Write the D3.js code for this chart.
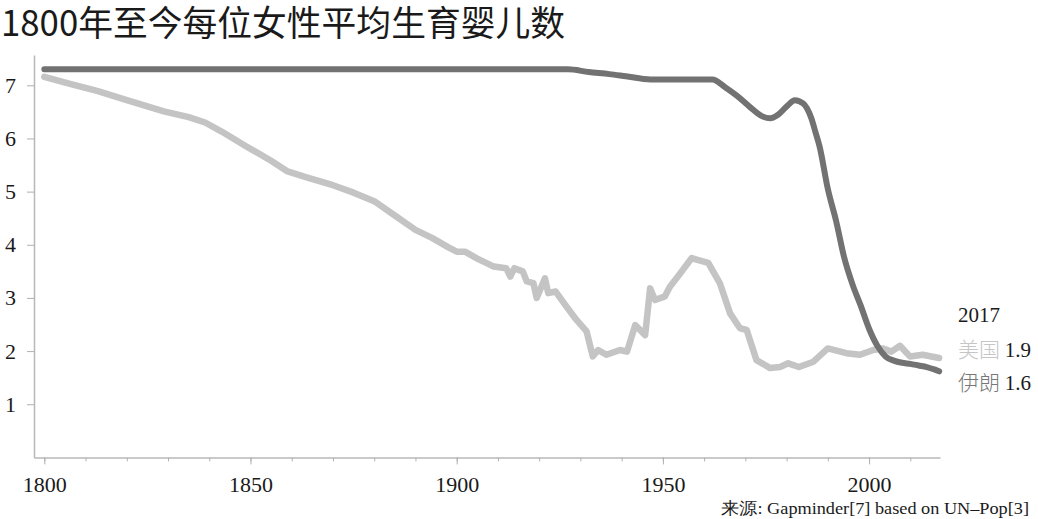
<!DOCTYPE html>
<html>
<head>
<meta charset="utf-8">
<script src="https://cdn.jsdelivr.net/npm/d3@7"></script>
<style>
  body { margin: 0; background: #fff; }
  svg { display: block; }
  .tick text { font-family: "Liberation Serif", "DejaVu Serif", serif; fill: #1a1a1a; }
</style>
</head>
<body>
<svg id="chart" width="1038" height="519"></svg>
<script>
// years and values
var iranYears = [1800, 1927, 1932, 1937, 1941, 1947, 1962, 1965, 1968, 1971, 1974, 1976, 1978, 1980, 1982, 1984, 1986, 1987, 1988, 1990, 1992, 1994, 1996, 1998, 2000, 2002, 2004, 2006, 2008, 2010, 2012, 2014, 2016, 2017];
var iranValues = [7.30, 7.30, 7.25, 7.21, 7.17, 7.11, 7.11, 6.97, 6.80, 6.60, 6.42, 6.38, 6.45, 6.60, 6.72, 6.66, 6.38, 6.12, 5.85, 5.05, 4.45, 3.75, 3.25, 2.85, 2.42, 2.10, 1.90, 1.82, 1.78, 1.76, 1.73, 1.70, 1.65, 1.62];

var usaYears = [1800, 1806, 1813, 1820, 1829, 1835, 1839, 1843, 1849, 1855, 1859, 1864, 1870, 1875, 1880, 1885, 1890, 1894, 1898, 1900, 1902, 1905, 1909, 1912, 1913, 1914, 1916, 1917, 1918.6, 1919.4, 1921.4, 1922.2, 1924, 1926.5, 1929, 1931.5, 1933, 1934.3, 1936.3, 1939.6, 1941.3, 1943.3, 1945.7, 1946.9, 1948.1, 1950.5, 1951.7, 1954, 1957, 1958.2, 1961, 1963.8, 1966.3, 1968.7, 1970.3, 1972.7, 1976, 1978.4, 1980.4, 1983, 1986.5, 1990, 1994.5, 1997.8, 2001, 2003.4, 2005.4, 2007.5, 2009.9, 2013, 2017];
var usaValues = [7.16, 7.03, 6.89, 6.72, 6.51, 6.40, 6.30, 6.13, 5.85, 5.58, 5.38, 5.26, 5.12, 4.98, 4.82, 4.55, 4.28, 4.13, 3.95, 3.87, 3.87, 3.74, 3.59, 3.56, 3.40, 3.56, 3.50, 3.31, 3.28, 3.00, 3.37, 3.09, 3.12, 2.85, 2.59, 2.37, 1.90, 2.02, 1.93, 2.02, 1.99, 2.49, 2.30, 3.18, 2.96, 3.03, 3.21, 3.44, 3.75, 3.72, 3.66, 3.28, 2.71, 2.43, 2.40, 1.83, 1.68, 1.70, 1.77, 1.70, 1.80, 2.05, 1.96, 1.93, 2.02, 2.05, 1.99, 2.10, 1.90, 1.93, 1.87];

var yTicks = [1, 2, 3, 4, 5, 6, 7];
var xMajorTicks = [1800, 1850, 1900, 1950, 2000];
var xMinorTicks = d3.range(1800, 2011, 10);

var title = "1800年至今每位女性平均生育婴儿数";
var labelYear = "2017";
var labels = [
  { name: "美国", value: "1.9", color: "#c6c6c6" },
  { name: "伊朗", value: "1.6", color: "#777777" }
];
var source = "来源: Gapminder[7] based on UN–Pop[3]";

var svg = d3.select("#chart");

var x = d3.scaleLinear().domain([1797.5, 2017.2]).range([34, 940]);
var y = d3.scaleLinear().domain([0, 7.57]).range([457.4, 55]);

// title
svg.append("text")
  .attr("x", 1).attr("y", 36)
  .style("font-family", "'Noto Sans CJK SC', sans-serif")
  .style("font-size", "35px")
  .style("fill", "#1a1a1a")
  .attr("textLength", 564)
  .attr("lengthAdjust", "spacingAndGlyphs")
  .text(title);

// axes
var yAxis = svg.append("g")
  .attr("transform", "translate(34,0)")
  .call(d3.axisLeft(y).tickValues(yTicks).tickSize(7).tickSizeOuter(0).tickPadding(11));
yAxis.selectAll("text").style("font-size", "22px");

var xMinor = svg.append("g")
  .attr("transform", "translate(0," + y(0) + ")")
  .call(d3.axisBottom(x).tickValues(xMinorTicks).tickSize(4).tickSizeOuter(0).tickFormat(""));
xMinor.select(".domain").remove();

var xAxis = svg.append("g")
  .attr("transform", "translate(0," + y(0) + ")")
  .call(d3.axisBottom(x).tickValues(xMajorTicks).tickSize(7).tickSizeOuter(0).tickPadding(12).tickFormat(d3.format("d")));
xAxis.selectAll("text").style("font-size", "22px");

svg.selectAll(".domain").attr("stroke", "#b8b8b8").attr("stroke-width", 1.5);
svg.selectAll(".tick line").attr("stroke", "#b0b0b0");

// lines
var line = d3.line()
  .x(function(d) { return x(d[0]); })
  .y(function(d) { return y(d[1]); });

svg.append("path")
  .datum(d3.zip(usaYears, usaValues))
  .attr("fill", "none")
  .attr("stroke", "#c4c4c4")
  .attr("stroke-width", 6.5)
  .attr("stroke-linejoin", "round")
  .attr("stroke-linecap", "round")
  .attr("d", line);

svg.append("path")
  .datum(d3.zip(iranYears, iranValues))
  .attr("fill", "none")
  .attr("stroke", "#727272")
  .attr("stroke-width", 6)
  .attr("stroke-linejoin", "round")
  .attr("stroke-linecap", "round")
  .attr("d", line.curve(d3.curveMonotoneX));

// end labels
var lab = svg.append("g")
  .style("font-family", "'Liberation Serif', 'Noto Sans CJK SC', serif")
  .style("font-size", "21px");
lab.append("text").attr("x", 958).attr("y", 322).style("fill", "#1a1a1a").text(labelYear);
labels.forEach(function(l, i) {
  var t = lab.append("text").attr("x", 958).attr("y", 357 + i * 33);
  t.append("tspan").style("fill", l.color).style("font-family", "'Noto Sans CJK SC', sans-serif").style("font-weight", 300).text(l.name + " ");
  t.append("tspan").style("fill", "#1a1a1a").text(l.value);
});

// source
svg.append("text")
  .attr("x", 1029).attr("y", 514)
  .attr("text-anchor", "end")
  .style("font-family", "'Liberation Serif', serif")
  .style("font-size", "17px")
  .style("fill", "#1a1a1a")
  .attr("textLength", 308)
  .attr("lengthAdjust", "spacingAndGlyphs")
  .text(source);
</script>
</body>
</html>
